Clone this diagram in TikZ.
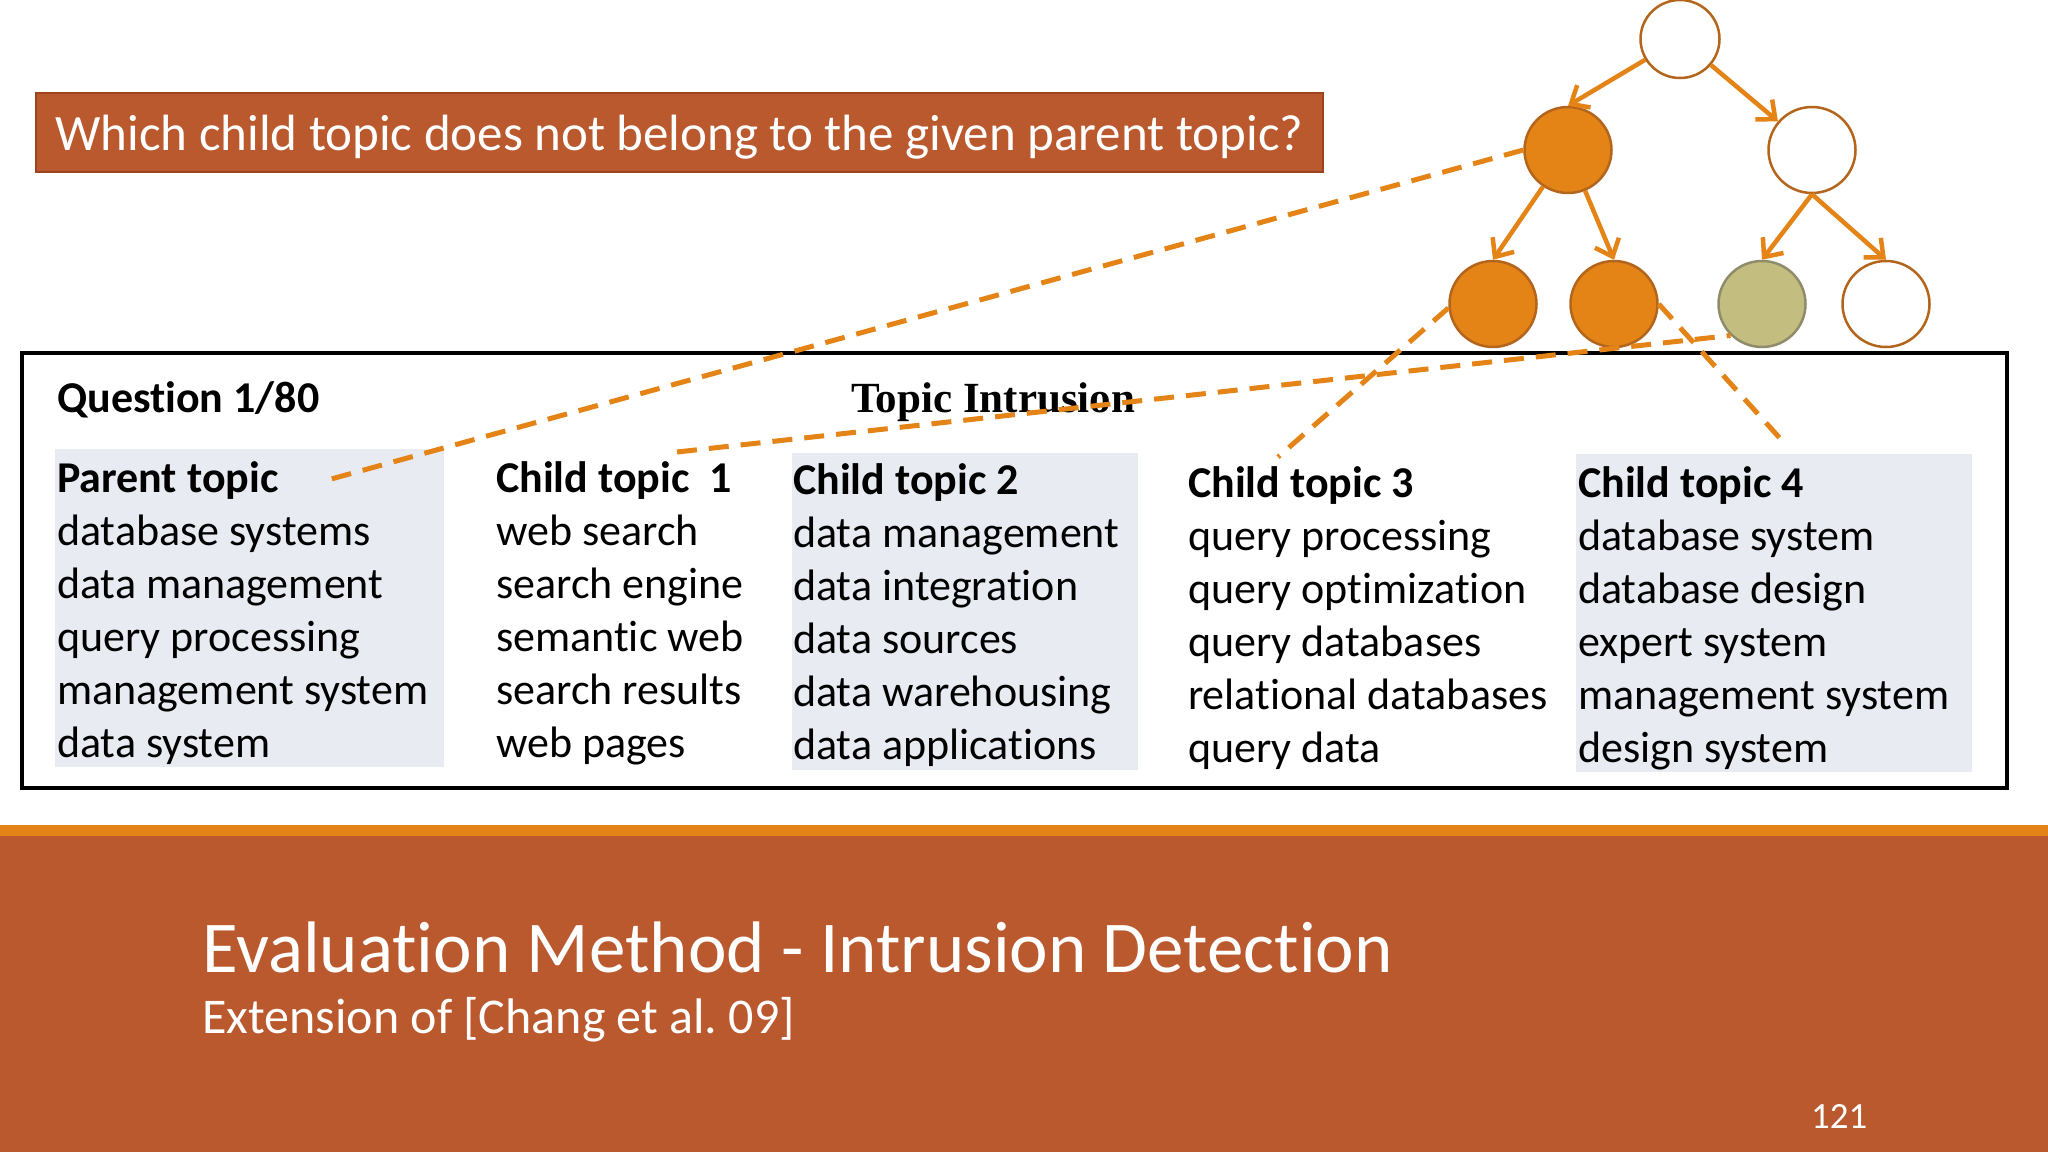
\documentclass[tikz,border=0pt]{standalone}
\usepackage{fontspec}
\setmainfont{Carlito}[Ligatures=NoCommon]
\newfontfamily\timesfont{Liberation Serif}
\usetikzlibrary{shapes.geometric,arrows.meta}
\definecolor{rust}{HTML}{BA582E}
\definecolor{rustdark}{HTML}{9C4422}
\definecolor{stripe}{HTML}{E38318}
\definecolor{treeorange}{HTML}{E48316}
\definecolor{treeedge}{HTML}{B4651C}
\definecolor{olive}{HTML}{C4BD80}
\definecolor{oliveedge}{HTML}{8E8C6A}
\definecolor{columnbg}{HTML}{E9EBF3}
\tikzset{
	topic/.style={ellipse, minimum width=87pt, minimum height=86pt, line width=2.5pt, draw=treeedge},
	hit/.style={topic, fill=treeorange},
	miss/.style={topic, fill=white},
	intruder/.style={topic, fill=olive, draw=oliveedge},
	treearrow/.style={draw=treeorange, line width=4.5pt, -{Straight Barb[length=15pt,width=26pt]}},
	link/.style={draw=treeorange, line width=5pt, dash pattern=on 20pt off 12pt},
	word/.style={anchor=base west, inner sep=0pt, font=\fontsize{44}{53}\selectfont},
	head/.style={word, font=\fontsize{44}{53}\selectfont\bfseries}
}
\begin{document}
\frenchspacing
\begin{tikzpicture}[x=1pt,y=-1pt]
	\useasboundingbox (0,0) rectangle (2048,1152);
	\node[draw=rustdark, fill=rust, line width=2pt, minimum width=1287pt, minimum height=79pt, text height=40pt, text depth=5pt, text=white, font=\fontsize{51}{60}\selectfont] (ask) at (679.5,132.5) {Which child topic does not belong to the given parent topic?};
	\fill[columnbg] (55,449) rectangle (444,767);
	\fill[columnbg] (792,453) rectangle (1138,770);
	\fill[columnbg] (1576,454) rectangle (1972,772);
	\draw[line width=3.5pt] (22,353) rectangle (2007,788);
	\node[head] (qn) at (57,412) {Question 1/80};
	\node[anchor=base west, inner sep=0pt, font=\timesfont\fontsize{43}{50}\selectfont\bfseries] (ti) at (851,412) {Topic Intrusion};
	\node[head] (ph) at (57,492) {Parent topic};
	\foreach \w [count=\i] in {database systems,data management,query processing,management system,data system}
		\node[word] (pw\i) at (57,{492+53*\i}) {\w};
	\node[head] (c1h) at (496,492) {Child topic~ 1};
	\foreach \w [count=\i] in {web search,search engine,semantic web,search results,web pages}
		\node[word] (ca\i) at (496,{492+53*\i}) {\w};
	\node[head] (c2h) at (793,494) {Child topic 2};
	\foreach \w [count=\i] in {data management,data integration,data sources,data warehousing,data applications}
		\node[word] (cb\i) at (793,{494+53*\i}) {\w};
	\node[head] (c3h) at (1188,497) {Child topic 3};
	\foreach \w [count=\i] in {query processing,query optimization,query databases,relational databases,query data}
		\node[word] (cc\i) at (1188,{497+53*\i}) {\w};
	\node[head] (c4h) at (1578,497) {Child topic 4};
	\foreach \w [count=\i] in {database system,database design,expert system,management system,design system}
		\node[word] (cd\i) at (1578,{497+53*\i}) {\w};
	\node[miss, minimum width=79pt, minimum height=78pt] (R) at (1680,39) {};
	\node[hit] (M1) at (1568,150) {};
	\node[miss] (M2) at (1812,150) {};
	\node[hit] (B1) at (1493,304) {};
	\node[hit] (B2) at (1614,304) {};
	\node[intruder] (B3) at (1762,304) {};
	\node[miss] (B4) at (1886,304) {};
	\draw[treearrow] (R) -- (M1.north);
	\draw[treearrow] (R) -- (M2);
	\draw[treearrow] (M1) -- (B1.north);
	\draw[treearrow] (M1) -- (B2.north);
	\draw[treearrow] (M2.south) -- (B3.north);
	\draw[treearrow] (M2.south) -- (B4.north);
	\coordinate (pend) at (324,481);
	\coordinate (c1top) at (677,452);
	\coordinate (c3top) at (1278,457);
	\coordinate (c4top) at (1786,445);
	\draw[link] (M1.west) -- (pend);
	\draw[link] (c1top) -- (B3.225);
	\draw[link] (B1.185) -- (c3top);
	\draw[link] (B2.east) -- (c4top);
	\fill[stripe] (0,825) rectangle (2048,836);
	\fill[rust] (0,836) rectangle (2048,1152);
	\node[anchor=base west, inner sep=0pt, text=white, font=\fontsize{73}{80}\selectfont] (sec) at (202,972) {Evaluation Method - Intrusion Detection};
	\node[anchor=base west, inner sep=0pt, text=white, font=\fontsize{50}{60}\selectfont] (ext) at (202,1033) {Extension of [Chang et al. 09]};
	\node[anchor=base west, inner sep=0pt, text=white, font=\fontsize{37}{44}\selectfont] (num) at (1811,1128) {121};
\end{tikzpicture}
\end{document}
